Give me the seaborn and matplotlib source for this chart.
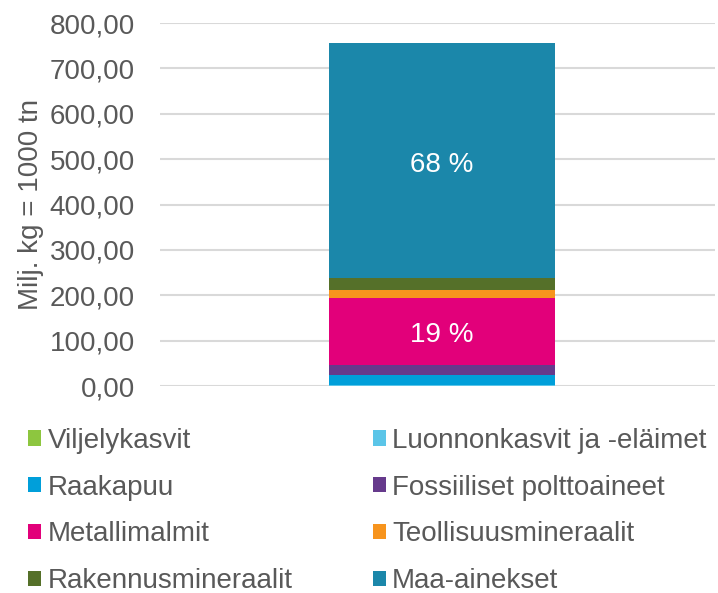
import matplotlib
matplotlib.use("Agg")
import matplotlib.pyplot as plt
import seaborn as sns
import pandas as pd
import numpy as np
from matplotlib.patches import Patch
from matplotlib.ticker import FuncFormatter

categories = ["Viljelykasvit", "Luonnonkasvit ja -eläimet", "Raakapuu",
              "Fossiiliset polttoaineet", "Metallimalmit", "Teollisuusmineraalit",
              "Rakennusmineraalit", "Maa-ainekset"]
values = [1.0, 0.3, 22.0, 23.5, 148.0, 17.0, 27.0, 517.0]
colors = ["#8DC63F", "#5BC5E8", "#009FDA", "#663A8C", "#E2007A", "#F7941D",
          "#557029", "#1B87AA"]
pct_labels = {"Maa-ainekset": "68 %", "Metallimalmit": "19 %"}
ylabel = "Milj. kg = 1000 tn"

sns.set_theme(style="white")
plt.rcParams["font.family"] = ["Liberation Sans", "DejaVu Sans"]

fig = plt.figure(figsize=(7.18, 5.93), dpi=100)
ax = fig.add_axes([0.223, 0.349, 0.773, 0.612])

cum = np.cumsum(values)
df = pd.DataFrame({"cat": categories, "top": cum, "val": values})
df["x"] = "Total"

# draw cumulative bars from top to bottom (stacking)
for i in range(len(categories) - 1, -1, -1):
    sns.barplot(data=df.iloc[[i]], x="x", y="top", color=colors[i],
                width=0.407, saturation=1, ax=ax, zorder=3, linewidth=0)

ax.set_xlim(-0.508, 0.492)
ax.set_ylim(0, 800)
ax.set_yticks(np.arange(0, 801, 100))
ax.yaxis.set_major_formatter(FuncFormatter(lambda v, p: f"{v:.2f}".replace(".", ",")))
ax.grid(axis="y", color="#D9D9D9", linewidth=1.5, zorder=0)
ax.set_axisbelow(True)
for s in ax.spines.values():
    s.set_visible(False)
ax.set_xticks([])
ax.set_xlabel("")
ax.tick_params(axis="y", length=0, pad=18, labelsize=20, labelcolor="#595959")
ax.set_ylabel(ylabel, fontsize=20, color="#595959", labelpad=4)

bottoms = cum - np.array(values)
for i, c in enumerate(categories):
    if c in pct_labels:
        ax.annotate(pct_labels[c], (0, bottoms[i] + values[i] / 2),
                    xytext=(0, -3), textcoords="offset points", ha="center",
                    va="center", color="white", fontsize=20, zorder=5)

order = [0, 2, 4, 6, 1, 3, 5, 7]
handles = [Patch(facecolor=colors[i], edgecolor="none", label=categories[i]) for i in order]
fig.legend(handles=handles, loc="upper left", bbox_to_anchor=(0.024, 0.297), ncol=2,
           frameon=False, fontsize=20, labelcolor="#595959", handlelength=0.47,
           handleheight=0.47, handletextpad=0.22, columnspacing=2.9,
           labelspacing=0.745, borderaxespad=0)

fig.savefig("out.png", dpi=100)
